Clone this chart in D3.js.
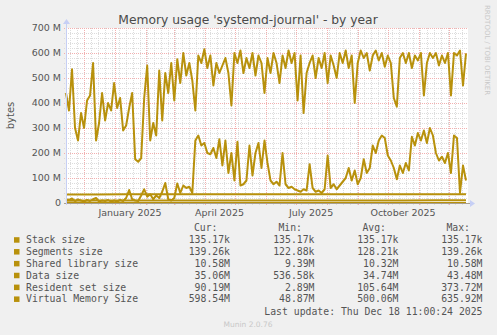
<!DOCTYPE html>
<meta charset="utf-8">
<style>
    body { margin: 0; background: #f0f0f0; }
    svg { display: block; font-family: "DejaVu Sans", sans-serif; }
    .legend text { font-family: "DejaVu Sans Mono", monospace; font-size: 9.8px; fill: #555; }
    .line { fill: none; stroke-width: 2px; stroke-linejoin: round; }
</style>
<svg width="497" height="335"></svg>
<script src="https://d3js.org/d3.v7.min.js"></script>
<script>

    // time span of the graph (400 days)
    var startDate = new Date(Date.UTC(2024, 10, 13, 11, 0)),
        endDate = new Date(Date.UTC(2025, 11, 18, 11, 0));

    var seriesNames = ["Stack size", "Segments size", "Shared library size", "Data size", "Resident set size", "Virtual Memory Size"];
    var curText = ["135.17k", "139.26k", "10.58M", "35.06M", "90.19M", "598.54M"];
    var minText = ["135.17k", "122.88k", "9.39M", "536.58k", "2.89M", "48.87M"];
    var avgText = ["135.17k", "128.21k", "10.32M", "34.74M", "105.64M", "500.06M"];
    var maxText = ["135.17k", "139.26k", "10.58M", "43.48M", "373.72M", "635.92M"];

    var yTicks = [0, 100, 200, 300, 400, 500, 600, 700];
    var monthLabels = ["January 2025", "April 2025", "July 2025", "October 2025"];

    // values in MB, spread evenly over the time span
    var stackSize = [0.135, 0.135, 0.135, 0.135];
    var segmentsSize = [0.123, 0.123, 0.125, 0.127, 0.128, 0.131, 0.135, 0.139];
    var sharedLibSize = [9.4, 9.8, 10.1, 10.3, 10.3, 10.4, 10.4, 10.4, 10.5, 10.5, 10.5, 10.5, 10.6, 10.58];
    var dataSize = [34.2, 34.5, 34.6, 34.8, 35.0, 34.9, 35.1, 35.0, 34.8, 35.0, 35.1, 35.0, 35.1, 35.06];

    var rssSize = [15, 12, 18, 8, 14, 10, 6, 12, 8, 15, 20, 6, 10, 8, 12, 5, 10, 6, 12, 8,
        20, 52, 15, 10, 8, 30, 55, 25, 35, 15, 30, 20, 45, 80, 15, 10, 20, 78, 40, 70,
        60, 65, 40, 250, 270, 230, 240, 200, 195, 220, 180, 255, 150, 250, 120, 200, 90, 245, 70, 75,
        90, 230, 110, 200, 240, 140, 250, 160, 90, 75, 85, 70, 200, 75, 60, 65, 55, 50, 45, 55,
        50, 155, 60, 45, 50, 40, 55, 190, 60, 75, 55, 70, 85, 100, 140, 90, 130, 75, 100, 175,
        120, 140, 230, 200, 250, 270, 260, 190, 170, 140, 95, 150, 120, 160, 130, 265, 230, 280, 250, 290,
        240, 300, 270, 200, 170, 185, 160, 200, 120, 270, 260, 40, 150, 90.19];

    var vszSize = [440, 370, 535, 300, 250, 360, 300, 410, 430, 560, 250, 320, 440, 330, 400, 370, 480, 380, 420, 290,
        310, 380, 440, 175, 165, 180, 420, 550, 250, 320, 270, 530, 330, 520, 440, 560, 410, 575, 480, 600,
        510, 560, 490, 370, 590, 560, 615, 540, 590, 470, 560, 520, 550, 580, 520, 390, 600, 560, 610, 520,
        580, 540, 600, 510, 590, 560, 440, 580, 520, 600, 560, 480, 590, 540, 610, 560, 600, 410, 590, 360,
        520, 560, 590, 500, 580, 540, 600, 480, 590, 550, 500, 600, 560, 610, 540, 590, 400, 560, 610, 580,
        600, 530, 590, 610, 570, 600, 545, 590, 560, 420, 385, 580, 600, 560, 600, 540, 590, 570, 600, 430,
        560, 600, 580, 600, 550, 590, 560, 600, 430, 600, 590, 610, 470, 598.54];

    var gold = "#b8910c";

    var svg = d3.select("svg"),
        plot = {left: 66, right: 466, top: 28, bottom: 203};

    var x = d3.scaleUtc().domain([startDate, endDate]).range([plot.left, plot.right]),
        y = d3.scaleLinear().domain([0, 700]).range([plot.bottom, plot.top]);

    // white canvas
    svg.append("rect")
        .attr("x", plot.left).attr("y", plot.top)
        .attr("width", plot.right - plot.left + 2).attr("height", plot.bottom - plot.top)
        .attr("fill", "#fff");

    // minor grid
    var minorY = d3.range(20, 701, 20).filter(function(d) { return d % 100 != 0; });
    var minorX = d3.utcSunday.range(startDate, endDate);
    var grid = svg.append("g").attr("stroke-dasharray", "1,1").attr("stroke-width", 1);

    grid.selectAll(".minor-y").data(minorY).enter().append("line")
        .attr("x1", plot.left - 2).attr("x2", plot.right + 2)
        .attr("y1", function(d) { return Math.round(y(d)) + 0.5; })
        .attr("y2", function(d) { return Math.round(y(d)) + 0.5; })
        .attr("stroke", "#dcdcdc");

    grid.selectAll(".minor-x").data(minorX).enter().append("line")
        .attr("x1", function(d) { return Math.round(x(d)) + 0.5; })
        .attr("x2", function(d) { return Math.round(x(d)) + 0.5; })
        .attr("y1", plot.top).attr("y2", plot.bottom + 2)
        .attr("stroke", "#dcdcdc");

    // major grid (red)
    var months = d3.utcMonth.range(startDate, endDate);
    grid.selectAll(".major-y").data(yTicks.slice(1)).enter().append("line")
        .attr("x1", plot.left - 2).attr("x2", plot.right + 2)
        .attr("y1", function(d) { return Math.round(y(d)) + 0.5; })
        .attr("y2", function(d) { return Math.round(y(d)) + 0.5; })
        .attr("stroke", "#f2b0b0");

    grid.selectAll(".major-x").data(months).enter().append("line")
        .attr("x1", function(d) { return Math.round(x(d)) + 0.5; })
        .attr("x2", function(d) { return Math.round(x(d)) + 0.5; })
        .attr("y1", plot.top).attr("y2", plot.bottom + 3)
        .attr("stroke", "#f2b0b0");

    // data lines, all in the same colour
    var allSeries = [stackSize, segmentsSize, sharedLibSize, dataSize, rssSize, vszSize];
    var span = endDate - startDate;
    var line = d3.line()
        .x(function(d, i, arr) { return x(new Date(+startDate + span * i / (arr.length - 1))); })
        .y(function(d) { return y(d); });

    svg.selectAll(".line").data(allSeries).enter().append("path")
        .attr("class", "line")
        .attr("stroke", gold)
        .attr("d", function(d) { return line(d); });

    // axes with arrows
    var axisColor = "#c6cff5";
    svg.append("line")
        .attr("x1", plot.left - 2).attr("x2", plot.right + 4)
        .attr("y1", plot.bottom + 0.5).attr("y2", plot.bottom + 0.5)
        .attr("stroke", "#a8a090");
    svg.append("line")
        .attr("x1", plot.left + 0.5).attr("x2", plot.left + 0.5)
        .attr("y1", plot.bottom + 2).attr("y2", plot.top - 5)
        .attr("stroke", axisColor);
    svg.append("path")
        .attr("d", "M" + (plot.left - 3) + "," + (plot.top - 4) + "L" + (plot.left + 0.5) + "," + (plot.top - 9) + "L" + (plot.left + 4) + "," + (plot.top - 4) + "Z")
        .attr("fill", axisColor);
    svg.append("path")
        .attr("d", "M" + (plot.right + 4) + "," + (plot.bottom - 3) + "L" + (plot.right + 9) + "," + (plot.bottom + 0.5) + "L" + (plot.right + 4) + "," + (plot.bottom + 4) + "Z")
        .attr("fill", axisColor);

    // tick labels
    svg.selectAll(".ylab").data(yTicks).enter().append("text")
        .attr("x", plot.left - 5)
        .attr("y", function(d) { return y(d); })
        .attr("dy", "0.35em")
        .attr("text-anchor", "end")
        .attr("font-size", "9.5px")
        .attr("fill", "#555")
        .text(function(d) { return d == 0 ? "0" : d + " M"; });

    var labelMonths = [new Date(Date.UTC(2025, 0, 1)), new Date(Date.UTC(2025, 3, 1)), new Date(Date.UTC(2025, 6, 1)), new Date(Date.UTC(2025, 9, 1))];
    svg.selectAll(".xlab").data(labelMonths).enter().append("text")
        .attr("x", function(d) { return (x(d) + x(d3.utcMonth.offset(d, 1))) / 2; })
        .attr("y", 215.5)
        .attr("text-anchor", "middle")
        .attr("font-size", "9.5px")
        .attr("fill", "#555")
        .text(function(d, i) { return monthLabels[i]; });

    // title, axis title and watermark
    svg.append("text")
        .attr("x", 248).attr("y", 24)
        .attr("text-anchor", "middle")
        .attr("font-size", "12.3px")
        .attr("fill", "#4a4a4a")
        .text("Memory usage 'systemd-journal' - by year");

    svg.append("text")
        .attr("transform", "translate(14," + ((plot.top + plot.bottom) / 2) + ") rotate(-90)")
        .attr("text-anchor", "middle")
        .attr("font-size", "10px")
        .attr("fill", "#555")
        .text("bytes");

    svg.append("text")
        .attr("transform", "translate(485,5) rotate(90)")
        .attr("font-size", "7px")
        .attr("fill", "#c8c8c8")
        .text("RRDTOOL / TOBI OETIKER");

    // legend
    var legend = svg.append("g").attr("class", "legend");
    var cols = [{t: "Cur:", x: 230, v: curText}, {t: "Min:", x: 314.5, v: minText},
                {t: "Avg:", x: 398.5, v: avgText}, {t: "Max:", x: 482.5, v: maxText}];

    cols.forEach(function(c) {
        legend.append("text").attr("x", c.x - 12.5).attr("y", 231).attr("text-anchor", "end").text(c.t);
    });

    var rows = legend.selectAll(".row").data(seriesNames).enter().append("g")
        .attr("transform", function(d, i) { return "translate(0," + (243.2 + i * 11.85) + ")"; });

    rows.append("rect")
        .attr("x", 14).attr("y", -6).attr("width", 5.5).attr("height", 5.5)
        .attr("fill", gold);
    rows.append("text").attr("x", 26).text(function(d) { return d; });

    cols.forEach(function(c) {
        rows.append("text").attr("x", c.x).attr("text-anchor", "end")
            .text(function(d, i) { return c.v[i]; });
    });

    legend.append("text")
        .attr("x", 482.5).attr("y", 314.5)
        .attr("text-anchor", "end")
        .text("Last update: Thu Dec 18 11:00:24 2025");

    svg.append("text")
        .attr("x", 248).attr("y", 327)
        .attr("text-anchor", "middle")
        .attr("font-size", "7.5px")
        .attr("fill", "#c8c8c8")
        .text("Munin 2.0.76");

</script>
